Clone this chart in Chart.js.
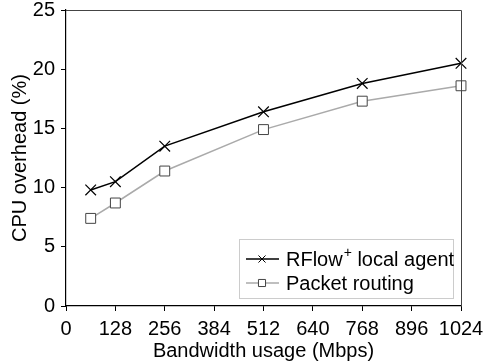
<!DOCTYPE html>
<html>
<head>
<meta charset="utf-8">
<script src="https://cdn.jsdelivr.net/npm/chart.js@4"></script>
<style>
  html, body { margin: 0; padding: 0; background: #fff; }
  #wrap { width: 485px; height: 364px; }
</style>
</head>
<body>
<div id="wrap"><canvas id="myChart" width="485" height="364"></canvas></div>
<script>
const bandwidth = [64, 128, 256, 512, 768, 1024];
const rflowAgent = [9.8, 10.5, 13.5, 16.4, 18.8, 20.5];
const packetRouting = [7.4, 8.7, 11.4, 14.9, 17.3, 18.6];
const seriesNames = ["RFlow\u207A local agent", "Packet routing"];
const xTicks = [0, 128, 256, 384, 512, 640, 768, 896, 1024];
const yTicks = [0, 5, 10, 15, 20, 25];

const FONT = "'Liberation Sans', Arial, sans-serif";

function toPoints(xs, ys) {
  return xs.map((x, i) => ({ x: x, y: ys[i] }));
}

// legend label with a real superscript "+"
function drawLabel(ctx, text, x, y) {
  const parts = text.split("\u207A");
  ctx.font = "20px " + FONT;
  ctx.fillText(parts[0], x, y);
  if (parts.length < 2) return;
  x += ctx.measureText(parts[0]).width + 1;
  ctx.font = "14px " + FONT;
  ctx.fillText("+", x, y - 7);
  x += ctx.measureText("+").width;
  ctx.font = "20px " + FONT;
  ctx.fillText(parts[1], x, y);
}

// draws the top/right frame and the boxed legend inside the plot
const framePlugin = {
  id: "frame",
  afterDraw(chart) {
    const ctx = chart.ctx;
    const a = chart.chartArea;
    ctx.save();
    ctx.strokeStyle = "#444";
    ctx.lineWidth = 1;
    ctx.beginPath();
    ctx.moveTo(a.left, a.top + 0.5);
    ctx.lineTo(a.right + 0.5, a.top + 0.5);
    ctx.lineTo(a.right + 0.5, a.bottom);
    ctx.stroke();

    // legend
    const lx = 239, ly = 239, lw = 214, lh = 59;
    ctx.fillStyle = "#fff";
    ctx.fillRect(lx, ly, lw, lh);
    ctx.strokeStyle = "#ccc";
    ctx.lineWidth = 1;
    ctx.strokeRect(lx + 0.5, ly + 0.5, lw, lh);
    ctx.textBaseline = "middle";
    chart.data.datasets.forEach((ds, i) => {
      const y = ly + 20 + i * 24;
      ctx.strokeStyle = ds.borderColor;
      ctx.lineWidth = 1.5;
      ctx.beginPath();
      ctx.moveTo(lx + 7, y);
      ctx.lineTo(lx + 40, y);
      ctx.stroke();
      ctx.fillStyle = "#fff";
      ctx.strokeStyle = ds.pointBorderColor;
      ctx.lineWidth = 1;
      Chart.helpers.drawPoint(ctx, {
        pointStyle: ds.pointStyle,
        radius: 5,
        borderWidth: 1,
        rotation: 0
      }, lx + 23, y);
      ctx.fillStyle = "#000";
      drawLabel(ctx, ds.label, lx + 47, y + 1);
    });
    ctx.restore();
  }
};

new Chart("myChart", {
  type: "line",
  data: {
    datasets: [{
      label: seriesNames[0],
      data: toPoints(bandwidth, rflowAgent),
      borderColor: "#000",
      borderWidth: 1.5,
      pointStyle: "crossRot",
      pointRadius: 7.5,
      pointBorderColor: "#000",
      pointBorderWidth: 1.2,
      tension: 0
    }, {
      label: seriesNames[1],
      data: toPoints(bandwidth, packetRouting),
      borderColor: "#aaa",
      borderWidth: 1.5,
      pointStyle: "rect",
      pointRadius: 7,
      pointBackgroundColor: "#fff",
      pointBorderColor: "#444",
      pointBorderWidth: 1,
      tension: 0
    }]
  },
  options: {
    responsive: false,
    animation: false,
    clip: false,
    layout: { padding: { top: 10, right: 24, left: 0, bottom: 0 } },
    plugins: {
      legend: { display: false },
      tooltip: { enabled: false }
    },
    scales: {
      x: {
        type: "linear",
        min: 0,
        max: 1024,
        afterBuildTicks(axis) { axis.ticks = xTicks.map(v => ({ value: v })); },
        afterFit(axis) { axis.height = 58; axis.paddingLeft = 0; axis.paddingRight = 0; },
        grid: { drawOnChartArea: false, drawTicks: true, tickLength: 5, color: "#000" },
        border: { color: "#000", width: 1.2 },
        ticks: {
          color: "#000", font: { family: FONT, size: 20 }, padding: 6,
          maxRotation: 0, autoSkip: false,
          callback: v => String(v)
        },
        title: { display: true, text: "Bandwidth usage (Mbps)", color: "#000", font: { family: FONT, size: 20 }, padding: { top: 0, bottom: 1 } }
      },
      y: {
        min: 0,
        max: 25,
        afterBuildTicks(axis) { axis.ticks = yTicks.map(v => ({ value: v })); },
        afterFit(axis) { axis.width = 66; axis.paddingTop = 0; axis.paddingBottom = 0; },
        grid: { drawOnChartArea: false, drawTicks: true, tickLength: 5, color: "#000" },
        border: { color: "#000", width: 1.2 },
        ticks: { color: "#000", font: { family: FONT, size: 20 }, padding: 6 },
        title: { display: true, text: "CPU overhead (%)", color: "#000", font: { family: FONT, size: 20 }, padding: { top: 8, bottom: 0 } }
      }
    }
  },
  plugins: [framePlugin]
});
</script>
</body>
</html>
